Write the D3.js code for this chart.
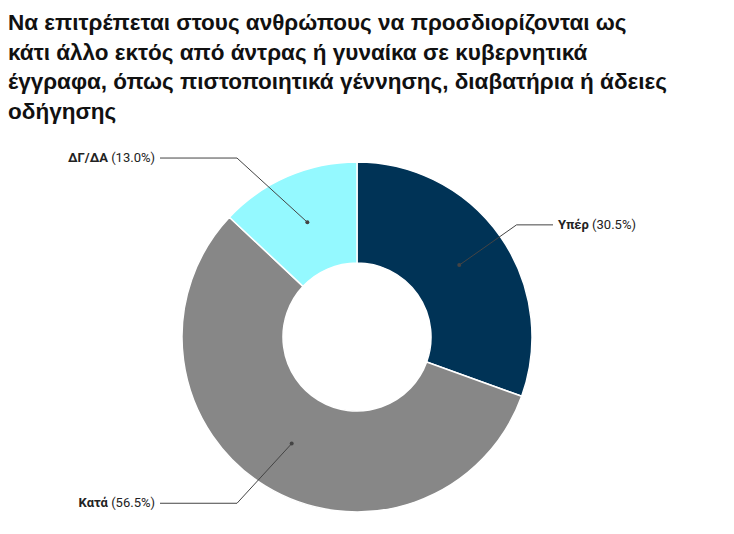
<!DOCTYPE html>
<html>
<head>
<meta charset="utf-8">
<script src="https://cdn.jsdelivr.net/npm/d3@7"></script>
<style>
  body { margin: 0; background: #fff; font-family: Roboto, "Noto Sans", sans-serif; }
</style>
</head>
<body>
<div id="chart"></div>
<script>
var titleLines = [
  "Να επιτρέπεται στους ανθρώπους να προσδιορίζονται ως",
  "κάτι άλλο εκτός από άντρας ή γυναίκα σε κυβερνητικά",
  "έγγραφα, όπως πιστοποιητικά γέννησης, διαβατήρια ή άδειες",
  "οδήγησης"
];
var categories = ["Υπέρ", "Κατά", "ΔΓ/ΔΑ"];
var values = [30.5, 56.5, 13.0];
var colors = ["#003356", "#878787", "#94f9ff"];

var width = 734, height = 534;
var cx = 357, cy = 337, outerR = 175, innerR = 74;

var svg = d3.select("#chart").append("svg")
  .attr("width", width).attr("height", height);

svg.append("text")
  .attr("x", 8).attr("y", 30)
  .style("font-family", "'Liberation Sans', Arial, sans-serif")
  .style("font-size", "22.5px").style("font-weight", "bold").attr("fill", "#111")
  .selectAll("tspan").data(titleLines).enter().append("tspan")
  .attr("x", 8).attr("dy", function(d, i) { return i ? 29.5 : 0; })
  .text(function(d) { return d; });

var data = categories.map(function(c, i) { return {name: c, value: values[i], color: colors[i]}; });
var pie = d3.pie().sort(null).value(function(d) { return d.value; });
var arc = d3.arc().innerRadius(innerR).outerRadius(outerR);
var arcs = pie(data);

var g = svg.append("g").attr("transform", "translate(" + cx + "," + cy + ")");

g.selectAll("path").data(arcs).enter().append("path")
  .attr("d", arc)
  .attr("fill", function(d) { return d.data.color; })
  .attr("stroke", "#fff").attr("stroke-width", 1.5);

function pt(a, r) { return [r * Math.sin(a), -r * Math.cos(a)]; }

arcs.forEach(function(d) {
  var a = (d.startAngle + d.endAngle) / 2;
  var p0 = pt(a, 125), p1 = pt(a, 195);
  var right = Math.sin(a) > 0;
  var endX = right ? 553 - cx : 160 - cx;
  if (!right) p1[0] = Math.min(p1[0], -120);
  g.append("polyline")
    .attr("points", [p0, p1, [endX, p1[1]]].map(function(p) { return p.join(","); }).join(" "))
    .attr("fill", "none").attr("stroke", "#444").attr("stroke-width", 1);
  g.append("circle").attr("cx", p0[0]).attr("cy", p0[1]).attr("r", 2).attr("fill", "#444");
  var t = g.append("text")
    .attr("x", endX + (right ? 5 : -5)).attr("y", p1[1] + 4)
    .attr("text-anchor", right ? "start" : "end")
    .style("font-size", "13px").attr("fill", "#222");
  t.append("tspan").style("font-weight", "bold").text(d.data.name);
  t.append("tspan").text(" (" + d.data.value.toFixed(1) + "%)");
});
</script>
</body>
</html>
